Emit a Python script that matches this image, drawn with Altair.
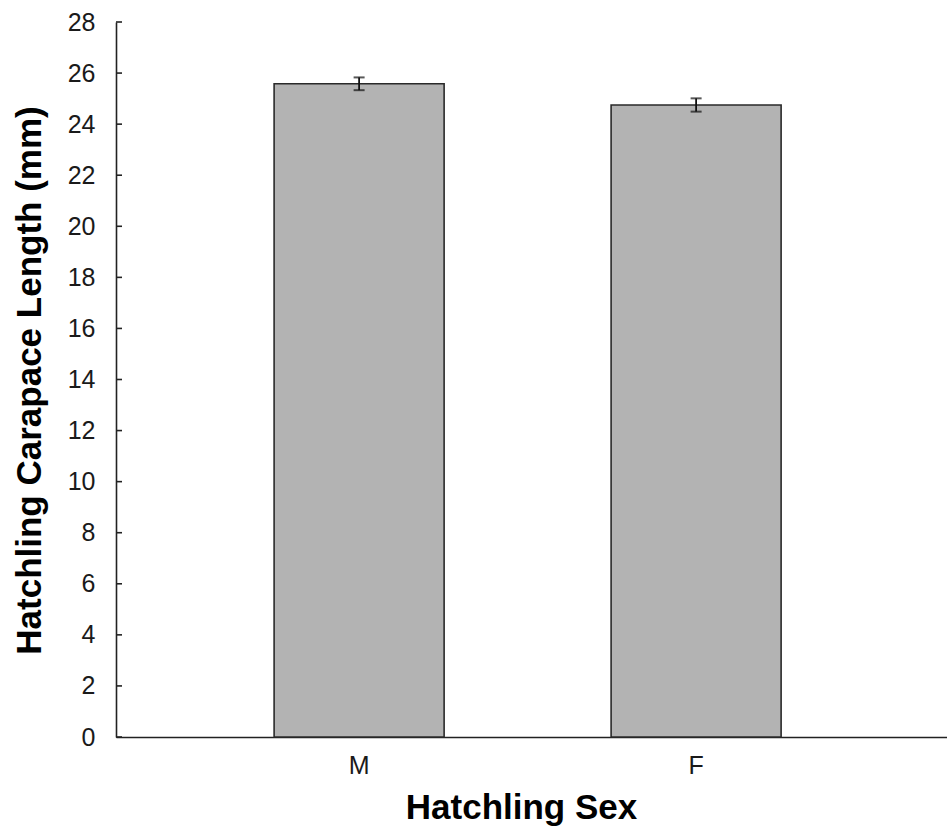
import altair as alt
import pandas as pd

sexes = ["M", "F"]
mean_length = [25.58, 24.75]
err_length = [0.25, 0.26]
y_tick_values = [0, 2, 4, 6, 8, 10, 12, 14, 16, 18, 20, 22, 24, 26, 28]

df = pd.DataFrame({
    "sex": sexes,
    "mean": mean_length,
    "lo": [m - e for m, e in zip(mean_length, err_length)],
    "hi": [m + e for m, e in zip(mean_length, err_length)],
})
ticks_df = pd.DataFrame({"v": y_tick_values})

FONT = "Liberation Sans"

x_scale = alt.Scale(paddingInner=0.4955, paddingOuter=0.4807, align=0.488)

x_enc = alt.X(
    "sex:N",
    sort=sexes,
    scale=x_scale,
    axis=alt.Axis(
        title="Hatchling Sex",
        labelAngle=0,
        ticks=False,
        labelPadding=16,
        labelFontSize=25,
        labelFont=FONT,
        labelColor="#1a1a1a",
        titleFont=FONT,
        titleFontSize=35,
        titleFontWeight="bold",
        titleColor="black",
        titleX=405,
        titleY=81,
        titleAlign="center",
        titleBaseline="alphabetic",
        domainColor="#222222",
        domainWidth=1.6,
    ),
)

y_scale = alt.Scale(domain=[0, 28], nice=False)

bars = alt.Chart(df).mark_bar(
    color="#b3b3b3", stroke="#2a2a2a", strokeWidth=1.6
).encode(
    x=x_enc,
    y=alt.Y(
        "mean:Q",
        scale=y_scale,
        axis=alt.Axis(
            title="Hatchling Carapace Length (mm)",
            values=y_tick_values,
            ticks=False,
            grid=False,
            labelPadding=21,
            labelFontSize=25,
            labelFont=FONT,
            labelColor="#1a1a1a",
            titleFont=FONT,
            titleFontSize=35,
            titleFontWeight="bold",
            titleColor="black",
            titleX=-76,
            titleY=358,
            titleAngle=270,
            titleAlign="center",
            titleBaseline="alphabetic",
            domainColor="#222222",
            domainWidth=1.6,
        ),
    ),
)

err_rule = alt.Chart(df).mark_rule(color="#111111", strokeWidth=1.8).encode(
    x=alt.X("sex:N", sort=sexes, scale=x_scale),
    y=alt.Y("lo:Q", scale=y_scale),
    y2="hi:Q",
)

cap_lo = alt.Chart(df).mark_tick(color="#111111", thickness=2, size=11).encode(
    x=alt.X("sex:N", sort=sexes, scale=x_scale),
    y=alt.Y("lo:Q", scale=y_scale),
)
cap_hi = alt.Chart(df).mark_tick(color="#111111", thickness=2, size=11).encode(
    x=alt.X("sex:N", sort=sexes, scale=x_scale),
    y=alt.Y("hi:Q", scale=y_scale),
)

inner_ticks = alt.Chart(ticks_df).mark_rule(color="#222222", strokeWidth=1.6).encode(
    y=alt.Y("v:Q", scale=y_scale),
    x=alt.value(0),
    x2=alt.value(6),
)

chart = alt.layer(bars, err_rule, cap_lo, cap_hi, inner_ticks).properties(
    width=831,
    height=715,
    padding={"left": 116, "top": 22, "right": 0, "bottom": 97},
    autosize=alt.AutoSizeParams(type="none"),
    background="white",
).configure_view(stroke=None)

chart.save("out.html", embed_options={"renderer": "svg", "actions": False})
